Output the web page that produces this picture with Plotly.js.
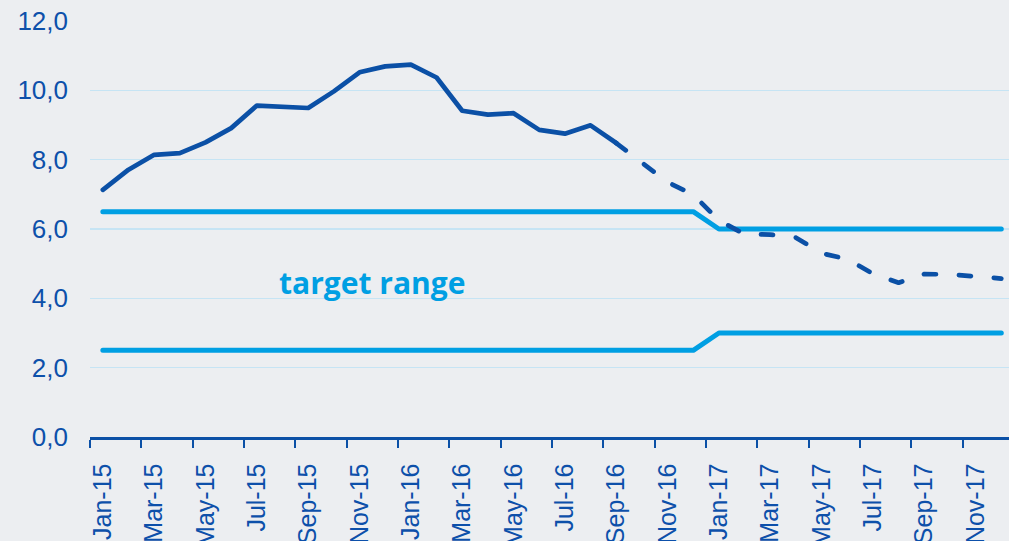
<!DOCTYPE html>
<html>
<head>
<meta charset="utf-8">
<script src="https://cdn.plot.ly/plotly-3.0.1.min.js"></script>
<style>
html,body{margin:0;padding:0;background:#eceef1;}
#chart{width:1009px;height:541px;}
.scatterlayer .js-line{stroke-linecap:round !important;stroke-linejoin:round !important;}
</style>
</head>
<body>
<div id="chart"></div>
<script>
var months = ['Jan-15','Feb-15','Mar-15','Apr-15','May-15','Jun-15','Jul-15','Aug-15','Sep-15','Oct-15','Nov-15','Dec-15',
              'Jan-16','Feb-16','Mar-16','Apr-16','May-16','Jun-16','Jul-16','Aug-16','Sep-16','Oct-16','Nov-16','Dec-16',
              'Jan-17','Feb-17','Mar-17','Apr-17','May-17','Jun-17','Jul-17','Aug-17','Sep-17','Oct-17','Nov-17','Dec-17'];

// actual inflation, Jan-15 .. Sep-16
var actual = [7.13, 7.71, 8.14, 8.19, 8.50, 8.91, 9.56, 9.53, 9.49, 9.97, 10.52, 10.69,
              10.74, 10.37, 9.41, 9.30, 9.34, 8.86, 8.75, 8.99, 8.48];

// forecast, Sep-16 .. Dec-17
var forecast = [8.48, 7.91, 7.35, 6.99, 6.25, 5.85, 5.84, 5.75, 5.30, 5.13, 4.71, 4.45, 4.70, 4.69, 4.63, 4.57];

// target range bounds, Jan-15 .. Dec-17
var targetUpper = [6.5,6.5,6.5,6.5,6.5,6.5,6.5,6.5,6.5,6.5,6.5,6.5,
                   6.5,6.5,6.5,6.5,6.5,6.5,6.5,6.5,6.5,6.5,6.5,6.5,
                   6.0,6.0,6.0,6.0,6.0,6.0,6.0,6.0,6.0,6.0,6.0,6.0];
var targetLower = [2.5,2.5,2.5,2.5,2.5,2.5,2.5,2.5,2.5,2.5,2.5,2.5,
                   2.5,2.5,2.5,2.5,2.5,2.5,2.5,2.5,2.5,2.5,2.5,2.5,
                   3.0,3.0,3.0,3.0,3.0,3.0,3.0,3.0,3.0,3.0,3.0,3.0];

var yTicks = [0, 2, 4, 6, 8, 10, 12];
var annotationText = 'target range';

var idx = months.map(function(m, i){ return i; });
var actualX = idx.slice(0, actual.length);
var forecastStart = actual.length - 1;
var forecastX = idx.slice(forecastStart, forecastStart + forecast.length);

var labelVals = idx.filter(function(i){ return i % 2 === 0; });
var labelText = labelVals.map(function(i){ return months[i]; });
var boundaryVals = labelVals.map(function(i){ return i - 0.5; });

var DARK = '#0b50a6';
var LIGHT = '#009fe3';

var traces = [
  {x: idx, y: targetUpper, type: 'scatter', mode: 'lines', line: {color: LIGHT, width: 5}, hoverinfo: 'skip'},
  {x: idx, y: targetLower, type: 'scatter', mode: 'lines', line: {color: LIGHT, width: 5}, hoverinfo: 'skip'},
  {x: forecastX, y: forecast, type: 'scatter', mode: 'lines', line: {color: DARK, width: 4.7, dash: '12px,23px'}, hoverinfo: 'skip'},
  {x: actualX, y: actual, type: 'scatter', mode: 'lines', line: {color: DARK, width: 4.7}, hoverinfo: 'skip'}
];

var layout = {
  width: 1009, height: 541,
  margin: {l: 90, r: 0, t: 21, b: 104},
  paper_bgcolor: '#eceef1',
  plot_bgcolor: '#eceef1',
  showlegend: false,
  separators: ',.',
  font: {family: 'Liberation Sans, Arial, sans-serif', color: '#0d50aa', size: 26},
  xaxis: {
    range: [-0.5, 35.3],
    tickmode: 'array',
    tickvals: labelVals,
    ticktext: labelText,
    tickangle: -90,
    ticks: '',
    ticklabelstandoff: 14,
    showgrid: false,
    zeroline: false,
    showline: true,
    linecolor: DARK,
    linewidth: 2.5,
    tickfont: {size: 25, color: '#0d50aa'},
    minor: {
      tickmode: 'array',
      tickvals: boundaryVals,
      ticks: 'outside',
      ticklen: 8,
      tickwidth: 2,
      tickcolor: DARK,
      showgrid: false
    },
    fixedrange: true
  },
  yaxis: {
    range: [0, 12],
    tickmode: 'array',
    tickvals: yTicks,
    tickformat: '.1f',
    ticks: '',
    ticklabelstandoff: 21,
    showgrid: true,
    gridcolor: '#c6e4f4',
    gridwidth: 1.5,
    zeroline: false,
    showline: false,
    tickfont: {size: 26, color: '#0d50aa'},
    fixedrange: true
  },
  annotations: [{
    x: 10.49, y: 4.47, xref: 'x', yref: 'y',
    text: annotationText,
    showarrow: false,
    xanchor: 'center', yanchor: 'middle',
    font: {family: 'Open Sans, sans-serif', size: 30, color: LIGHT, weight: 700}
  }]
};

Plotly.newPlot('chart', traces, layout, {staticPlot: true, displayModeBar: false});
</script>
</body>
</html>
